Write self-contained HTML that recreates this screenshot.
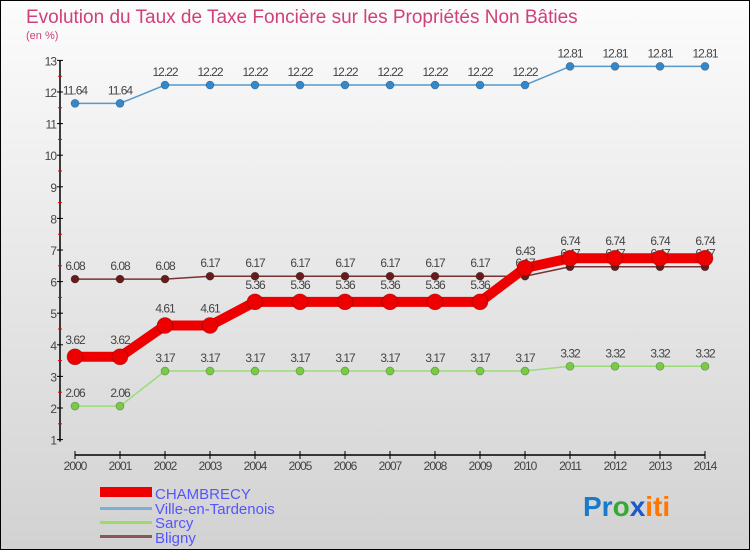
<!DOCTYPE html>
<html><head><meta charset="utf-8"><style>
body{margin:0;}
#c{width:750px;height:550px;position:relative;box-sizing:border-box;border:1px solid #000;background:linear-gradient(#fcfcfc,#d2d2d2);font-family:"Liberation Sans",sans-serif;overflow:hidden}
</style></head><body>
<div id="c">
<svg width="750" height="550" style="position:absolute;left:-1px;top:-1px">
<text x="26" y="23" font-size="19" fill="#d0407a">Evolution du Taux de Taxe Foncière sur les Propriétés Non Bâties</text>
<text x="26" y="39" font-size="11" fill="#d0407a">(en %)</text>
<g id="axes"></g><g id="series"></g>
<g>
<rect x="100" y="487" width="52" height="10" fill="#e00"/>
<text x="155" y="499" font-size="15" fill="#5555ff">CHAMBRECY</text>
<rect x="100" y="507" width="52" height="3" fill="#7ab0d8"/>
<text x="155" y="514" font-size="15" fill="#5555ff">Ville-en-Tardenois</text>
<rect x="100" y="521" width="52" height="3" fill="#99dd66"/>
<text x="155" y="528" font-size="15" fill="#5555ff">Sarcy</text>
<rect x="100" y="535" width="52" height="3" fill="#8a5555"/>
<text x="155" y="543" font-size="15" fill="#5555ff">Bligny</text>
</g>
<g font-size="28" font-weight="bold">
<text x="583" y="516"><tspan fill="#1a7acc">Pr</tspan><tspan fill="#33aa33">o</tspan><tspan fill="#1a5acc">x</tspan><tspan fill="#ff7700">iti</tspan></text>
</g>
</svg>
</div>
<script>
const years=[2000,2001,2002,2003,2004,2005,2006,2007,2008,2009,2010,2011,2012,2013,2014];
const yTicks=[1,2,3,4,5,6,7,8,9,10,11,12,13];
const chambrecy=[3.62,3.62,4.61,4.61,5.36,5.36,5.36,5.36,5.36,5.36,6.43,6.74,6.74,6.74,6.74];
const ville=[11.64,11.64,12.22,12.22,12.22,12.22,12.22,12.22,12.22,12.22,12.22,12.81,12.81,12.81,12.81];
const sarcy=[2.06,2.06,3.17,3.17,3.17,3.17,3.17,3.17,3.17,3.17,3.17,3.32,3.32,3.32,3.32];
const bligny=[6.08,6.08,6.08,6.17,6.17,6.17,6.17,6.17,6.17,6.17,6.17,6.47,6.47,6.47,6.47];
const NS="http://www.w3.org/2000/svg";
const X=i=>75+i*45;
const Y=v=>439.6-(v-1)*31.6;
function mk(t,a,p){const e=document.createElementNS(NS,t);for(const k in a)e.setAttribute(k,a[k]);p.appendChild(e);return e;}
const ax=document.getElementById('axes'),sg=document.getElementById('series');
const yl=mk('line',{x1:60,x2:60,y1:Y(13),y2:Y(1)+2,stroke:'#000','stroke-width':1.5},ax);


yTicks.forEach(v=>{
 mk('line',{x1:57,x2:63,y1:Y(v),y2:Y(v),stroke:'#000'},ax);
 if(v<13)mk('line',{x1:58,x2:62,y1:Y(v+0.5),y2:Y(v+0.5),stroke:'#e00'},ax);
 const t=mk('text',{x:56,y:Y(v)+5,'font-size':12,'text-anchor':'end',fill:'#444','letter-spacing':'-1'},ax);t.textContent=v;
 
 
});
const xl=mk('line',{x1:X(0),x2:X(14),y1:455,y2:455,stroke:'#000','stroke-width':1.5},ax);


years.forEach((y,i)=>{
 mk('line',{x1:X(i),x2:X(i),y1:451,y2:459,stroke:'#000'},ax);
 const t=mk('text',{x:X(i),y:470,'font-size':12,'text-anchor':'middle',fill:'#444','letter-spacing':'-1'},ax);t.textContent=y;
 
 
});
function draw(vals,name,color,dot,w,r){
 const g=mk('g',{},sg);
 
 
 mk('polyline',{points:vals.map((v,i)=>X(i)+','+Y(v)).join(' '),fill:'none',stroke:color,'stroke-width':w,'stroke-linejoin':'round'},g);
 vals.forEach((v,i)=>{
  const c=mk('circle',{cx:X(i),cy:Y(v),r:r,fill:dot,stroke:'rgba(0,0,0,0.3)','stroke-width':0.7},g);
  
  
  const t=mk('text',{x:X(i),y:Y(v)-(r+5),'font-size':12,'text-anchor':'middle',fill:'#444','letter-spacing':'-1'},g);
  t.textContent=v.toFixed(2).replace(/0$/,'').replace(/\.$/,'');
  if(v.toFixed(2).endsWith('0'))t.textContent=v.toFixed(2);
  
  
 });
}
draw(sarcy,'sarcy','#99dd77','#77cc44',1.5,4);
draw(bligny,'bligny','#773333','#661c1c',1.5,4);
draw(ville,'ville-en-tardenois','#5599cc','#3388cc',1.5,4);
draw(chambrecy,'chambrecy','#ee0000','#ee0000',10,8);
</script>
</body></html>
